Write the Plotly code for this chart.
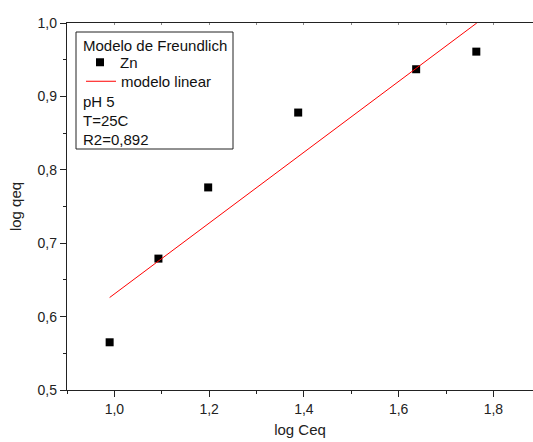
import plotly.graph_objects as go

# Data
log_ceq = [0.990, 1.093, 1.198, 1.388, 1.637, 1.764]
log_qeq = [0.565, 0.679, 0.776, 0.878, 0.937, 0.961]

fit_x = [0.990, 1.765]
fit_y = [0.626, 1.000]

legend_title = "Modelo de Freundlich"
series_name = "Zn"
fit_name = "modelo linear"
info_lines = ["pH 5", "T=25C", "R2=0,892"]

x_title = "log Ceq"
y_title = "log qeq"

W, H = 533, 442
ML, MR, MT, MB = 67, 0, 23, 52
PW, PH = W - ML - MR, H - MT - MB

FONT = "Arial, Liberation Sans, sans-serif"

def px_x(p):
    return (p - ML) / PW

def px_y(p):
    return 1 - (p - MT) / PH

fig = go.Figure()
fig.add_trace(go.Scatter(
    x=log_ceq, y=log_qeq, mode="markers", name=series_name,
    marker=dict(symbol="square", size=8, color="black"), legend="legend",
))
fig.add_trace(go.Scatter(
    x=fit_x, y=fit_y, mode="lines", name=fit_name,
    line=dict(color="red", width=1), legend="legend2",
))
# invisible trace for the top mirrored axis
fig.add_trace(go.Scatter(x=fit_x, y=fit_y, xaxis="x2", mode="lines",
                         line=dict(width=0), showlegend=False, hoverinfo="skip",
                         opacity=0))

leg_common = dict(xanchor="left", yanchor="top", bgcolor="rgba(0,0,0,0)",
                  borderwidth=0, font=dict(size=15, color="#111"), itemwidth=30)

xr = [0.9, 0.9 + PW / 473.75]
fig.update_layout(
    width=W, height=H,
    margin=dict(l=ML, r=MR, t=MT, b=MB),
    paper_bgcolor="white", plot_bgcolor="white",
    separators=",.",
    font=dict(family=FONT, size=14, color="#222"),
    xaxis=dict(
        range=xr, showgrid=False, zeroline=False,
        showline=True, linecolor="#222", linewidth=1.3,
        tickmode="linear", tick0=1.0, dtick=0.2, tickformat=".1f",
        ticks="outside", ticklen=6, tickwidth=1.3, tickcolor="#222",
        minor=dict(ticks="outside", ticklen=3, dtick=0.1, tick0=1.0,
                   tickcolor="#222", tickwidth=1.3),
        title=dict(text=x_title, font=dict(size=15), standoff=8),
        tickfont=dict(size=14),
    ),
    xaxis2=dict(
        range=xr, overlaying="x", side="top", showgrid=False, zeroline=False,
        showline=True, linecolor="#222", linewidth=1.3,
        tickmode="linear", tick0=1.0, dtick=0.1, showticklabels=False,
        ticks="inside", ticklen=2, tickcolor="#888", tickwidth=1,
    ),
    yaxis=dict(
        range=[0.5, 1.0], showgrid=False, zeroline=False,
        showline=True, linecolor="#222", linewidth=1.3,
        tickmode="linear", tick0=0.5, dtick=0.1, tickformat=".1f",
        ticks="outside", ticklen=6, tickwidth=1.3, tickcolor="#222",
        minor=dict(ticks="outside", ticklen=3, dtick=0.05, tick0=0.5,
                   tickcolor="#222", tickwidth=1.3),
        title=dict(text=y_title, font=dict(size=15), standoff=12),
        tickfont=dict(size=14),
    ),
    legend=dict(x=px_x(80), y=px_y(46), **leg_common),
    legend2=dict(x=px_x(81), y=px_y(65), **leg_common),
    showlegend=True,
)

# legend box
fig.add_shape(type="rect", xref="paper", yref="paper",
              x0=px_x(76), x1=px_x(233), y0=px_y(149), y1=px_y(32),
              line=dict(color="#222", width=1), fillcolor="rgba(0,0,0,0)")

fig.add_annotation(xref="paper", yref="paper", x=px_x(81), y=px_y(45),
                   text=legend_title, showarrow=False, xanchor="left",
                   yanchor="middle", font=dict(size=15, color="#111"))
for i, t in enumerate(info_lines):
    fig.add_annotation(xref="paper", yref="paper", x=px_x(81), y=px_y(102 + 18.5 * i),
                       text=t, showarrow=False, xanchor="left", yanchor="middle",
                       font=dict(size=15, color="#111"))

fig.write_html("out.html")
